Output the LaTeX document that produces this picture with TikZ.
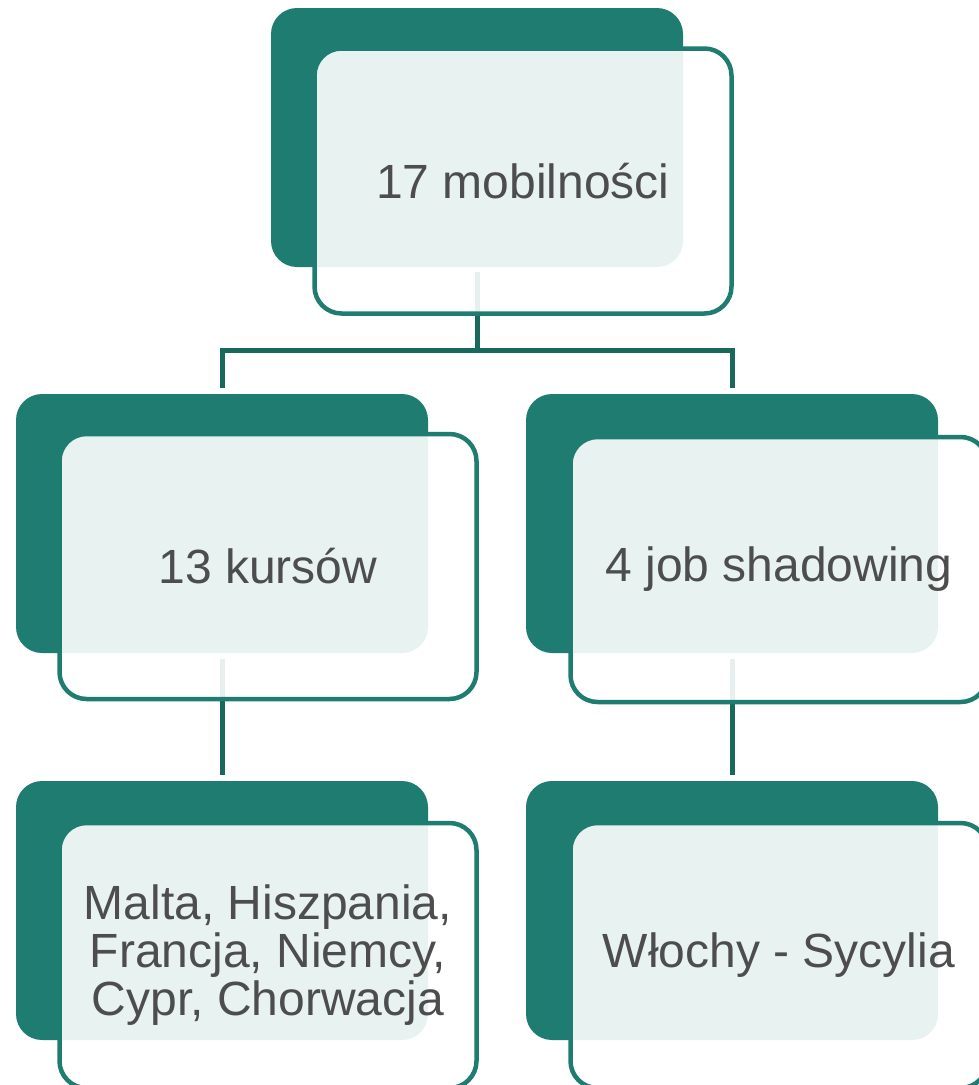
\documentclass[tikz,border=0pt]{standalone}
\usepackage{fontspec}
\setmainfont{Liberation Sans}
\definecolor{teal1}{RGB}{30,125,112}
\definecolor{connc}{RGB}{24,104,92}
\definecolor{txtc}{RGB}{77,77,77}
\tikzset{
  backbox/.style={draw=none, fill=teal1, rounded corners=26pt, minimum width=412pt, minimum height=259pt, inner sep=0pt},
  frontbox/.style={draw=teal1, line width=4.5pt, fill=white, fill opacity=0.9, text opacity=1, rounded corners=27pt,
    minimum width=417pt, minimum height=265pt, inner sep=0pt, align=center, text=txtc,
    font=\fontsize{48pt}{48pt}\selectfont},
  conn/.style={draw=connc, line width=5pt, line join=miter}
}
\begin{document}
\begin{tikzpicture}[x=1pt,y=-1pt]
\useasboundingbox (0,0) rectangle (979,1085);
\clip (0,0) rectangle (979,1085);
% back boxes
\node[backbox] (tb) at (477,137.5) {};
\node[backbox] (lb) at (222,523.5) {};
\node[backbox] (rb) at (732,523.5) {};
\node[backbox] (llb) at (222,910.5) {};
\node[backbox] (rlb) at (732,910.5) {};
% connectors
\coordinate (j) at (477,350);
\draw[conn] ([yshift=-5pt]tb.south) -- (j);
\draw[conn] ([yshift=6pt]lb.north) |- (j) -| ([yshift=6pt]rb.north);
\draw[conn] ([yshift=-6pt]lb.south) -- ([yshift=6pt]llb.north);
\draw[conn] ([yshift=-6pt]rb.south) -- ([yshift=6pt]rlb.north);
% front boxes
\node[frontbox] (tf) at (523,181) {17 mobilności};
\node[frontbox] (lf) at (268,566.5) {13 kursów};
\node[frontbox] (rf) at (779,569.5) {4 job shadowing};
\node[frontbox] (llf) at (268,955.5) {Malta, Hiszpania,\\Francja, Niemcy,\\Cypr, Chorwacja};
\node[frontbox] (rlf) at (779,955.5) {Włochy - Sycylia};
\end{tikzpicture}
\end{document}
